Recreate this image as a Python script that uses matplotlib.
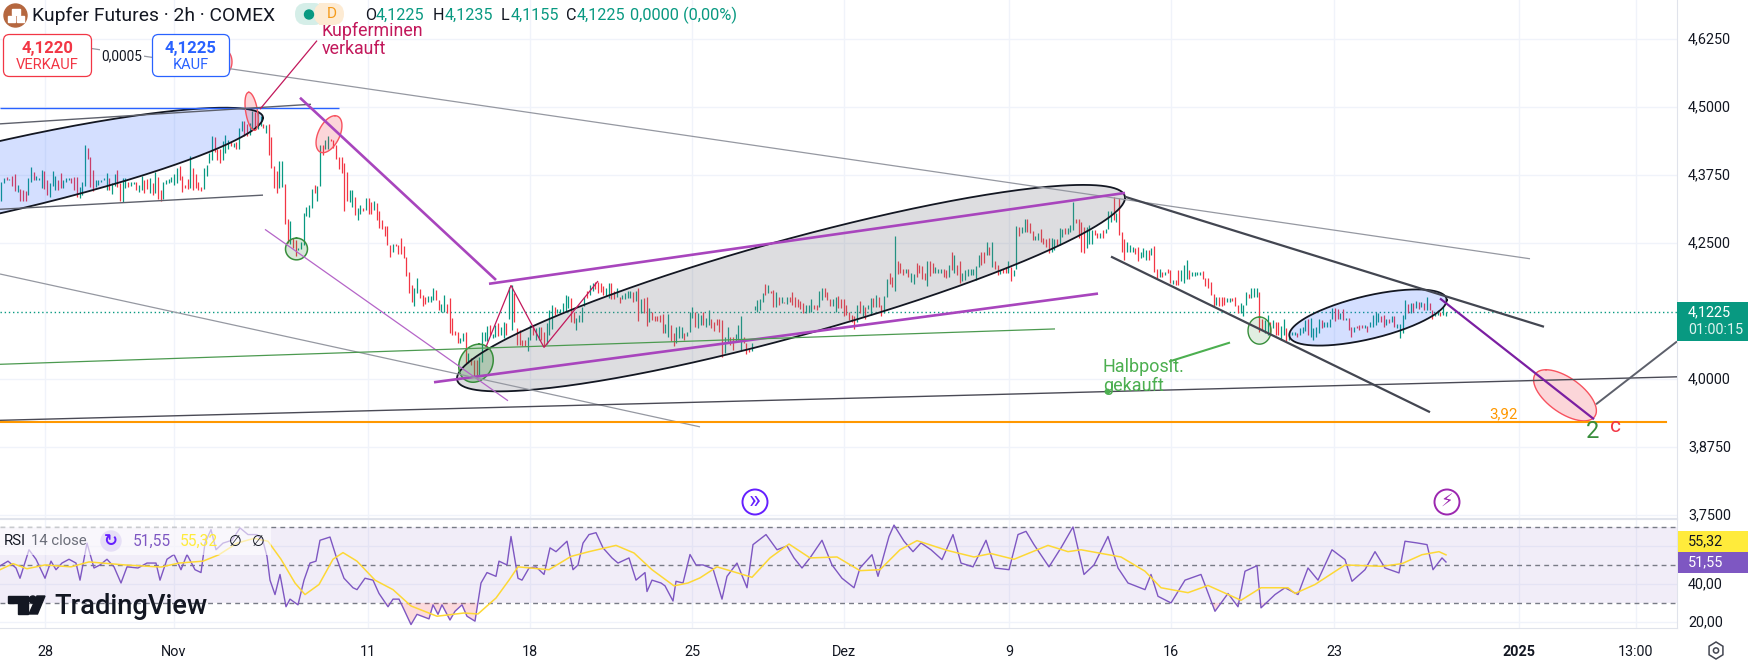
import numpy as np
import matplotlib
matplotlib.use("Agg")
import matplotlib.pyplot as plt
from matplotlib.patches import FancyBboxPatch, Rectangle, Circle, Polygon
from matplotlib.transforms import ScaledTranslation

plt.rcParams['font.family'] = ['Roboto', 'DejaVu Sans']

# ---------- data ----------
# 2h bars, one line per 20 bars; values in thousandths of USD/lb
bar_highs = [
4363,4370,4371,4368,4374,4376,4357,4349,4347,4345,4370,4390,4381,4374,4370,4385,4382,4365,4360,4383,
4374,4366,4379,4366,4370,4370,4369,4371,4371,4353,4363,4431,4425,4408,4384,4365,4365,4366,4370,4379,
4370,4360,4376,4385,4360,4370,4370,4363,4363,4363,4363,4357,4374,4366,4368,4370,4360,4380,4371,4348,
4362,4366,4368,4371,4376,4388,4391,4374,4357,4368,4409,4388,4376,4363,4353,4388,4394,4415,4447,4444,
4422,4422,4437,4449,4439,4435,4434,4435,4461,4474,4474,4469,4471,4492,4490,4492,4483,4468,4466,4468,
4444,4392,4382,4400,4400,4359,4295,4290,4259,4255,4241,4251,4305,4316,4320,4349,4357,4355,4431,4431,
4439,4447,4441,4440,4431,4408,4408,4397,4380,4347,4347,4335,4314,4320,4314,4333,4332,4325,4328,4324,
4308,4293,4282,4281,4247,4249,4248,4247,4260,4244,4225,4197,4172,4167,4186,4166,4155,4151,4152,4152,
4167,4164,4146,4138,4154,4138,4148,4112,4089,4086,4075,4084,4086,4048,4039,4035,4034,4040,4086,4086,
4098,4100,4083,4099,4102,4096,4105,4102,4170,4173,4158,4093,4090,4072,4072,4078,4099,4099,4093,4096,
4096,4087,4102,4126,4136,4133,4128,4128,4139,4154,4152,4148,4124,4112,4118,4133,4150,4162,4172,4176,
4179,4179,4177,4171,4167,4176,4177,4162,4167,4150,4154,4158,4162,4162,4160,4162,4167,4147,4148,4150,
4130,4124,4116,4116,4118,4120,4101,4120,4099,4084,4096,4097,4096,4084,4087,4124,4133,4124,4121,4118,
4124,4112,4127,4110,4105,4110,4110,4108,4078,4096,4078,4078,4083,4100,4116,4077,4066,4056,4066,4134,
4145,4147,4158,4175,4173,4161,4163,4159,4150,4151,4142,4151,4150,4160,4150,4147,4143,4140,4136,4136,
4147,4136,4136,4162,4167,4167,4160,4147,4147,4151,4153,4147,4147,4136,4124,4118,4115,4136,4144,4136,
4132,4136,4148,4148,4154,4150,4136,4153,4183,4195,4187,4262,4216,4214,4203,4202,4202,4194,4193,4213,
4210,4208,4195,4216,4216,4213,4205,4203,4203,4203,4200,4210,4233,4228,4210,4216,4195,4200,4203,4203,
4202,4208,4228,4234,4234,4251,4243,4252,4217,4210,4200,4203,4205,4216,4205,4200,4281,4280,4279,4295,
4294,4286,4272,4262,4269,4276,4260,4257,4259,4259,4257,4257,4277,4276,4277,4277,4283,4326,4295,4295,
4289,4280,4279,4283,4274,4274,4268,4268,4274,4275,4308,4308,4335,4305,4332,4271,4257,4251,4246,4243,
4240,4242,4233,4240,4237,4238,4240,4244,4203,4202,4197,4197,4203,4200,4182,4182,4200,4200,4210,4219,
4200,4197,4197,4197,4197,4199,4185,4185,4178,4156,4151,4150,4151,4150,4148,4148,4148,4151,4136,4139,
4136,4159,4156,4168,4167,4168,4160,4111,4108,4118,4105,4108,4105,4105,4097,4111,4093,4084,4087,4087,
4085,4093,4095,4108,4111,4113,4093,4096,4111,4108,4105,4105,4111,4130,4130,4128,4121,4128,4113,4113,
4096,4095,4097,4099,4099,4099,4097,4105,4118,4124,4122,4115,4118,4111,4111,4115,4115,4101,4101,4118,
4145,4138,4139,4139,4144,4142,4142,4139,4150,4139,4127,4121,4127,4124,4133,4124]
bar_lows = [
4327,4360,4365,4365,4354,4345,4343,4327,4328,4327,4339,4363,4366,4366,4365,4351,4349,4339,4335,4355,
4347,4347,4351,4352,4363,4366,4360,4347,4335,4333,4339,4355,4404,4353,4345,4353,4357,4363,4365,4348,
4348,4340,4354,4353,4327,4325,4351,4353,4355,4359,4348,4344,4347,4342,4349,4342,4339,4342,4330,4328,
4330,4359,4360,4362,4357,4360,4365,4344,4351,4349,4351,4348,4351,4348,4345,4349,4373,4397,4403,4417,
4403,4397,4402,4415,4422,4428,4427,4423,4422,4455,4446,4446,4449,4457,4458,4460,4465,4461,4452,4412,
4388,4351,4341,4351,4353,4284,4250,4249,4241,4227,4237,4239,4247,4299,4298,4314,4341,4327,4354,4411,
4422,4423,4437,4425,4404,4386,4378,4308,4327,4325,4317,4302,4293,4304,4308,4311,4304,4304,4311,4292,
4278,4275,4262,4246,4224,4233,4245,4230,4229,4222,4190,4158,4142,4134,4158,4148,4135,4138,4141,4141,
4146,4145,4126,4124,4123,4121,4084,4080,4081,4066,4067,4069,4029,4029,4026,4005,4004,4005,4032,4069,
4069,4080,4075,4077,4079,4081,4075,4081,4110,4090,4105,4063,4063,4061,4061,4052,4072,4081,4072,4072,
4072,4060,4065,4081,4091,4118,4122,4122,4124,4124,4130,4105,4102,4090,4105,4105,4134,4149,4155,4162,
4165,4158,4159,4154,4153,4148,4147,4147,4151,4139,4147,4147,4148,4148,4142,4144,4107,4121,4121,4097,
4105,4108,4107,4107,4105,4085,4084,4078,4069,4061,4066,4075,4075,4072,4079,4087,4112,4096,4093,4099,
4099,4096,4099,4093,4089,4100,4087,4041,4047,4066,4063,4053,4069,4072,4053,4066,4046,4050,4052,4127,
4124,4127,4142,4154,4158,4158,4133,4133,4136,4139,4139,4138,4142,4136,4132,4133,4129,4121,4121,4124,
4124,4128,4127,4133,4146,4150,4146,4134,4134,4124,4130,4130,4115,4118,4108,4105,4091,4105,4122,4115,
4111,4128,4118,4133,4133,4132,4115,4122,4151,4175,4170,4162,4193,4194,4192,4194,4187,4179,4175,4187,
4194,4183,4182,4171,4189,4194,4195,4195,4195,4187,4185,4187,4200,4194,4191,4176,4181,4182,4189,4191,
4191,4182,4206,4210,4214,4228,4228,4205,4203,4191,4193,4195,4194,4195,4181,4189,4203,4262,4268,4271,
4271,4269,4256,4256,4256,4251,4248,4243,4231,4234,4237,4246,4246,4261,4266,4267,4271,4274,4286,4260,
4234,4232,4240,4249,4248,4265,4259,4259,4259,4268,4275,4289,4292,4289,4265,4234,4219,4234,4233,4233,
4230,4216,4222,4224,4219,4219,4228,4197,4185,4188,4188,4191,4195,4176,4175,4173,4173,4181,4176,4183,
4183,4189,4189,4191,4191,4183,4171,4167,4154,4134,4136,4134,4134,4136,4142,4142,4144,4134,4122,4122,
4116,4136,4148,4148,4150,4150,4087,4090,4084,4081,4081,4093,4081,4081,4072,4081,4069,4072,4081,4081,
4078,4081,4084,4089,4081,4078,4072,4078,4084,4093,4096,4096,4096,4111,4107,4111,4110,4108,4108,4090,
4077,4087,4093,4090,4093,4093,4087,4096,4096,4099,4105,4105,4095,4099,4102,4105,4096,4093,4075,4084,
4111,4121,4122,4124,4130,4128,4133,4127,4127,4126,4110,4115,4118,4115,4118,4116]
# bar colour per block of twenty bars: g = up, r = down
bar_dir_blocks = [
"ggrgrrgrrrggrgggrrgg","grrgggrrrgggrrrggggg","rggrrggrggrggrrgrgrr","ggggggrrrrgrrrrggggr",
"rrgggrgrggrrggrggrgr","rrrggrrgrrggggggrggr","ggrrrrrrrggrggrgrrgr","rrrrrgrrrrrrrggrrrgg",
"grrggrrrrrggrgrrrggg","grggrggrggrrrrrggrgg","rrgggrgggggrrggggrgg","rrrrggrrgrggggrgrgrr",
"grrrrrggrrgggrgggrgg","rggrrrrrggrrgggrrrgg","gggrgrrgrgrgrrrrrrgg","grrggrrrggrrrrrrrgrg",
"rggrgrrggrrgrrrgrggr","rrrgrrgggrrgrgrrgggg","gggrrgrgrrgrrgrggrgg","rrrggrrrrggrggrgggrr",
"rrgggrrgrgggrgrrrggg","rrgggrgrrgrgrrgrrggg","rggggrrrrrgrrrggrrrg","ggrgggrrggrgrrggrggg",
"rgggrggggrggggrrgrgr","rgrrrgrggggrrgrgrggg","grgrgrgrgrrggrgg"]
last_close_price = 4.1225
orange_level = 3.921

rsi_x = [0,8,16,20,29,36,45,51,56,62,69,76,80,87,94,100,107,114,121,127,138,147,156,160,167,174,181,187,195,201,205,211,216,223,232,240,248,257,263,267,270,275,280,286,290,298,304,310,316,320,330,337,344,353,357,365,373,379,388,393,399,404,411,417,429,433,438,442,450,455,462,467,475,481,487,496,499,507,511,518,522,529,536,544,550,556,567,573,578,583,589,596,603,612,618,629,636,645,647,652,661,665,673,676,683,690,696,
703,713,722,727,737,747,753,766,777,787,794,802,810,822,832,842,854,860,872,878,889,894,904,913,921,931,942,953,961,973,986,995,1009,1018,1026,1034,1049,1061,1073,1084,1094,1108,1118,1128,1145,1151,1158,1171,1185,1201,1215,1228,1238,1245,1257,1261,1275,1285,1298,1308,1318,1332,1345,1352,1365,1375,1385,1399,1405,1417,1427,1433,1442,1446]
rsi_values = [49.5,52,48.4,43,58,53,43,52,47.5,51,53,51,42,61.5,48.4,50,53,49,40.5,49,48.4,51,51,42,53,55.5,47.5,55.5,47.5,46,61.5,68.6,58,61.5,63,69.5,66,66,62.5,54.5,42,34.4,45,28,32,29,42,51,52,63,64.7,53,43,38,37,43,42,35,28,32,32,26.5,18.6,24,21.6,29,24,29,21,25.6,29,23,20.4,40.5,46,44,52,50,65,43,42,48.4,49,45,59,57,62.5,47.5,50,61.5,66,67,59,53.7,51,53.7,42,46,36,42,40.5,39,31,41.4,40.5,55.5,50,
50,48,32,44,51,38,60.7,66,58,60,53.7,48.4,53.7,63,50,43,38,48.4,55.4,44,65,71,62.5,57,61.6,58,52.8,66,51,49,63,48.4,47.5,66,67.7,60.7,49,59,70,45,50,65,48.4,40.5,37,45,33.5,30,42,45,25.6,35,28,46.7,49.6,27.4,34.4,38,34.4,48.4,42,58,52.8,41.4,47.5,57,48.4,45.8,62.5,61.6,60.7,47.5,53.7,51.55]
rsi_ma_x = [0,13,27,45,71,89,125,161,179,203,219,237,254,268,281,295,305,319,333,343,357,375,393,411,437,464,478,496,509,518,549,571,589,616,634,652,674,688,
700,717,733,752,770,789,810,837,860,880,900,917,947,974,991,1014,1048,1068,1081,1121,1145,1161,1188,1208,1241,1261,1288,1295,1315,1345,1382,1402,1422,1439,1446]
rsi_ma_values = [47.5,50.7,48,50,49,51.6,50,48.9,51,52,55.4,61.5,64,62.5,53,40.5,34.4,39.7,53,56.5,52,42,37,28.4,23,24.7,24.2,32.6,42,49,47.5,54.5,57,60.3,56.3,47.5,39,40.5,
43.2,49,46.5,43.5,53.7,61,53.7,54.2,47,47.5,58,62.8,57.7,54.2,56,53,60.3,57,58,54.2,46.7,38,35.4,39.2,31.4,38,38,35,39.7,50,49.3,50.7,55.4,57,55.32]

price_ticks = [3.75,3.875,4.0,4.25,4.375,4.5,4.625]
price_labels = ['3,7500','3,8750','4,0000','4,2500','4,3750','4,5000','4,6250']
time_ticks = [45,174,368,530,692,844,1009,1171,1334,1519,1636]
time_labels = ['28','Nov','11','18','25','Dez','9','16','23','2025','13:00']

# trend lines: x0, price0, x1, price1, colour, width
trend_lines = [
 (0,4.498,339,4.498,'#2962ff',1.0),
 (0,4.469,311,4.505,'#5d606b',1.0),
 (0,4.312,263,4.338,'#5d606b',1.0),
 (60,4.616,1530,4.221,'#9598a1',0.9),
 (300,4.517,496,4.182,'#a845bd',1.9),
 (489,4.175,1125,4.342,'#a845bd',1.9),
 (434,3.994,1098,4.157,'#a845bd',1.9),
 (265,4.275,508,3.960,'#b565c8',0.9),
 (0,4.193,700,3.912,'#9598a1',0.9),
 (0,4.027,1055,4.092,'#4c9a50',0.9),
 (0,3.924,1677,4.004,'#4a4a55',1.0),
 (1125,4.335,1544,4.096,'#434651',1.6),
 (1111,4.225,1430,3.939,'#434651',1.6),
 (1440,4.148,1594,3.926,'#7b1fa2',1.6),
 (1596,3.9535,1677,4.069,'#5d606b',1.4),
 (1169,4.032,1230,4.067,'#4caf50',1.5),
 (260,4.496,317,4.622,'#c2185b',0.9),
 (486,4.059,511,4.172,'#c2185b',0.9),
 (511,4.172,544,4.058,'#c2185b',0.9),
 (544,4.058,598,4.180,'#c2185b',0.9),
]
# ellipses: centre x, centre price, axis1 dx, axis1 dprice, axis2 dx, axis2 dprice, fill, alpha, edge, width
ellipses = [
 (224,4.583,0,0.022,8,0,'#f23645',0.2,'#f7525f',1.0),
 (0,4.371,263,0.109,0,0.0665,'#2962ff',0.2,'#131722',1.3),
 (791,4.167,334,0.166,0,0.092,'#787b86',0.25,'#131722',1.3),
 (1368,4.113,78.7,0.032,0,0.0405,'#2962ff',0.2,'#131722',1.3),
 (251.6,4.492,-2.8,0.035,6,0,'#f23645',0.2,'#f7525f',1.0),
 (329,4.450,6,0.034,11.5,0,'#f23645',0.2,'#f7525f',1.0),
 (296.5,4.239,0,0.020,11,0,'#388e3c',0.2,'#388e3c',1.1),
 (476,4.029,3,0.035,17,0,'#388e3c',0.28,'#388e3c',1.1),
 (1259.5,4.089,0,0.025,11.5,0,'#388e3c',0.15,'#388e3c',1.0),
 (1565,3.970,-19,0.047,25,0,'#f23645',0.2,'#f7525f',1.0),
]

# ---------- figure ----------
W, H = 1748, 665
fig = plt.figure(figsize=(W/100, H/100), dpi=100, facecolor='white')
chart_r, pane_split, chart_b = 1677, 519, 628
ax = fig.add_axes([0, 1-pane_split/H, chart_r/W, pane_split/H])
rs = fig.add_axes([0, 1-chart_b/H, chart_r/W, (chart_b-pane_split)/H])
ui = fig.add_axes([0, 0, 1, 1], zorder=10)
ui.set_xlim(0, W); ui.set_ylim(H, 0); ui.axis('off'); ui.patch.set_alpha(0)

GRID = '#f0f3fa'; EDGE = '#e0e3eb'; TXT = '#131722'
TK = 10.4
for a in (ax, rs):
    a.set_xlim(0, chart_r)
    a.set_xticks(time_ticks)
    a.grid(True, color=GRID, lw=1.0, zorder=0)
    a.set_axisbelow(True)
    a.yaxis.tick_right()
    a.tick_params(length=0, labelsize=TK, labelcolor=TXT)
    for s in a.spines.values():
        s.set_visible(False)
    a.spines['right'].set_visible(True); a.spines['right'].set_color(EDGE)

# price pane
ax.set_ylim(3.7426, 4.6967)
ax.set_yticks(price_ticks, price_labels)
ax.tick_params(axis='y', pad=8)
ax.tick_params(axis='x', labelbottom=False)
lift = ScaledTranslation(0, 1.5/100, fig.dpi_scale_trans)
for lab in ax.get_yticklabels():
    lab.set_transform(lab.get_transform() + lift)

bar_step = 2.7
dirs = "".join(bar_dir_blocks)
n = min(len(bar_highs), len(bar_lows), len(dirs))
xs = 1.3 + bar_step*np.arange(n)
hi = np.array(bar_highs[:n])/1000; lo = np.array(bar_lows[:n])/1000
cols = ['#089981' if c == 'g' else '#f23645' for c in dirs[:n]]
ax.vlines(xs, lo, hi, colors=cols, lw=0.9, zorder=3)

ax.axhline(last_close_price, color='#089981', lw=1, ls=(0, (1, 2)), zorder=2.5)

t = np.linspace(0, 2*np.pi, 300)
for cx, cp, ax1, ap1, ax2, ap2, fc, al, ec, lw in ellipses:
    ex = cx + ax1*np.cos(t) + ax2*np.sin(t)
    ey = cp + ap1*np.cos(t) + ap2*np.sin(t)
    ax.fill(ex, ey, color=fc, alpha=al, lw=0, zorder=4)
    ax.plot(ex, ey, color=ec, lw=lw, zorder=5)

for x0, p0, x1, p1, c, lw in trend_lines:
    ax.plot([x0, x1], [p0, p1], color=c, lw=lw, zorder=6, solid_capstyle='butt')
ax.plot([0, 1666], [orange_level]*2, color='#ff9800', lw=1.5, zorder=6)
ax.plot([1107], [3.9785], 'o', color='#4caf50', ms=3.2, zorder=7)

ax.text(1489, 3.922, '3,92', color='#ff9800', fontsize=10.8, va='bottom', ha='left', zorder=7)
ax.text(1593, 3.903, '2', color='#388e3c', fontsize=17, ha='center', va='center', zorder=7)
ax.text(1615.5, 3.913, 'c', color='#f23645', fontsize=15, ha='center', va='center', zorder=7)
ax.text(1103, 4.0215, 'Halbposit.', color='#4caf50', fontsize=13, va='center', ha='left', zorder=7)
ax.text(1103, 3.988, 'gekauft', color='#4caf50', fontsize=13, va='center', ha='left', zorder=7)
ax.text(322, 4.640, 'Kupferminen', color='#c2185b', fontsize=12.8, va='center', ha='left', zorder=7)
ax.text(322, 4.607, 'verkauft', color='#c2185b', fontsize=12.8, va='center', ha='left', zorder=7)

# RSI pane
rs.set_ylim(16.8, 74.2)
rs.set_yticks([20, 40, 60], ['20,00', '40,00', ''])
rs.tick_params(axis='y', pad=8)
for lab in rs.get_yticklabels():
    lab.set_transform(lab.get_transform() + lift)
rs.set_xticks(time_ticks, time_labels)
rs.tick_params(axis='x', pad=12)
rs.get_xticklabels()[time_labels.index('2025')].set_fontweight('bold')
rs.axhspan(30, 70, color='#7e57c2', alpha=0.1, lw=0, zorder=1)
for lev in (70, 50, 30):
    rs.axhline(lev, color='#787b86', lw=1, ls=(0, (3.5, 3)), zorder=2)
rx = np.array(rsi_x, float); rv = np.array(rsi_values, float)
rs.fill_between(rx, rv, 30, where=rv < 30, interpolate=True, color='#f23645', alpha=0.18, lw=0, zorder=2)
rs.plot(rx, rv, color='#7e57c2', lw=1.0, zorder=4)
rs.plot(rsi_ma_x, rsi_ma_values, color='#fdd835', lw=1.1, zorder=5)
rs.spines['bottom'].set_visible(True); rs.spines['bottom'].set_color(EDGE)

# ---------- chrome ----------
ui.plot([0, chart_r], [pane_split]*2, color=EDGE, lw=1.5, zorder=1)
ui.add_patch(Circle((15.5, 15.5), 11.5, color='#b5673f', zorder=2))
ui.add_patch(Rectangle((11.5, 9), 8, 6, color='white', zorder=3))
ui.add_patch(Rectangle((7.5, 16), 7, 6, color='white', zorder=3))
ui.add_patch(Rectangle((16.5, 16), 7, 6, color='white', zorder=3))
ui.text(32, 15.5, 'Kupfer Futures · 2h · COMEX', fontsize=13.9, color=TXT, va='center', ha='left')
ui.add_patch(FancyBboxPatch((295, 3), 30, 22, boxstyle='round,pad=0,rounding_size=11', fc='#d5eee8', ec='none', zorder=8))
ui.add_patch(FancyBboxPatch((314, 3), 30, 22, boxstyle='round,pad=0,rounding_size=11', fc='#fdebd3', ec='none', zorder=8))
ui.add_patch(Rectangle((319, 3), 10, 22, fc='#fdebd3', ec='none', zorder=8))
ui.add_patch(Circle((309, 14.5), 4.5, color='#089981', zorder=9))
ui.text(332, 14.5, 'D', color='#f59b1a', fontsize=11, ha='center', va='center', zorder=9)
for lx, ltr, vx, val in [(365, 'O', 376, '4,1225'), (433, 'H', 445, '4,1235'), (501, 'L', 511, '4,1155'), (566, 'C', 577, '4,1225')]:
    ui.text(lx, 15, ltr, color=TXT, fontsize=11.6, va='center')
    ui.text(vx, 15, val, color='#089981', fontsize=11.6, va='center')
ui.text(630, 15, '0,0000 (0,00%)', color='#089981', fontsize=11.8, va='center')

# bid / ask boxes
ui.add_patch(FancyBboxPatch((3.5, 34.5), 88, 42, boxstyle='round,pad=0,rounding_size=6', fc='white', ec='#f23645', lw=0.9, zorder=4))
ui.text(47.5, 48, '4,1220', color='#f23645', fontsize=12, fontweight='bold', ha='center', va='center', zorder=5)
ui.text(47.5, 65, 'VERKAUF', color='#f23645', fontsize=10.5, ha='center', va='center', zorder=5)
ui.add_patch(Rectangle((100, 47), 44, 18, fc='white', ec='none', zorder=4))
ui.text(122, 56, '0,0005', color=TXT, fontsize=9.8, ha='center', va='center', zorder=5)
ui.add_patch(FancyBboxPatch((152.5, 34.5), 77, 42, boxstyle='round,pad=0,rounding_size=6', fc='white', ec='#2962ff', lw=0.9, zorder=4))
ui.text(191, 48, '4,1225', color='#2962ff', fontsize=12, fontweight='bold', ha='center', va='center', zorder=5)
ui.text(191, 65, 'KAUF', color='#2962ff', fontsize=10.5, ha='center', va='center', zorder=5)

# last price labels
ui.add_patch(Rectangle((1677, 302), 71, 39, fc='#089981', ec='none', zorder=4))
ui.text(1688, 312, '4,1225', color='white', fontsize=TK, va='center', zorder=5)
ui.text(1688, 330, '01:00:15', color='#dff3ef', fontsize=TK, va='center', zorder=5)
ui.add_patch(Rectangle((1678, 531), 70, 20.5, fc='#ffeb3b', ec='none', zorder=4))
ui.text(1688, 541, '55,32', color=TXT, fontsize=TK, va='center', zorder=5)
ui.add_patch(Rectangle((1678, 552), 70, 20.5, fc='#7e57c2', ec='none', zorder=4))
ui.text(1688, 562, '51,55', color='white', fontsize=TK, va='center', zorder=5)

# RSI legend
ui.add_patch(Rectangle((0, 527), 271, 28, fc='white', alpha=0.6, ec='none', zorder=2))
ui.text(4, 541, 'RSI', color=TXT, fontsize=10.7, va='center', zorder=5)
ui.text(31, 541, '14 close', color='#6a6d78', fontsize=10.7, va='center', zorder=5)
ui.add_patch(Circle((111, 541), 10, color='#e6dff6', zorder=4))
ui.text(111, 541, '\u21bb', color='#651fff', fontsize=12, ha='center', va='center', zorder=5, family='DejaVu Sans', fontweight='bold')
ui.text(133, 541, '51,55', color='#7e57c2', fontsize=11.2, va='center', zorder=5)
ui.text(180, 541, '55,32', color='#ffeb3b', fontsize=11.2, va='center', zorder=5)
ui.text(235, 541, '\u2205', color=TXT, fontsize=10.5, ha='center', va='center', zorder=5, family='DejaVu Sans')
ui.text(258, 541, '\u2205', color=TXT, fontsize=10.5, ha='center', va='center', zorder=5, family='DejaVu Sans')

# logo
ui.add_patch(Polygon([(8, 596), (27.7, 596), (27.7, 614), (17.5, 614), (17.5, 603), (8, 603)], color=TXT, zorder=5))
ui.add_patch(Circle((32.8, 599.6), 3.6, color=TXT, zorder=5))
ui.add_patch(Polygon([(37, 596), (45, 596), (37.5, 614), (29, 614)], color=TXT, zorder=5))
ui.text(54, 606.5, 'TradingView', color=TXT, fontsize=19.6, fontweight='medium', va='center', zorder=5)

# event markers
ui.add_patch(Circle((755, 502), 12.5, fc='white', ec='#651fff', lw=1.4, zorder=5))
ui.text(755, 501, '\u00bb', color='#651fff', fontsize=18, ha='center', va='center', zorder=6)
ui.add_patch(Circle((1447, 502), 12.5, fc='white', ec='#9c27b0', lw=1.4, zorder=5))
ui.text(1447, 502, '\u26a1', color='#9c27b0', fontsize=13, ha='center', va='center', zorder=6, family='DejaVu Sans')

# settings gear
ang = np.deg2rad(np.arange(30, 390, 60))
ui.add_patch(Polygon(np.c_[1716+8*np.cos(ang), 650.5+8.5*np.sin(ang)], fc='none', ec='#434651', lw=1.1, zorder=5))
ui.add_patch(Circle((1716, 650.5), 2.6, fc='none', ec='#434651', lw=1.1, zorder=5))

fig.savefig('out.png', dpi=100)
